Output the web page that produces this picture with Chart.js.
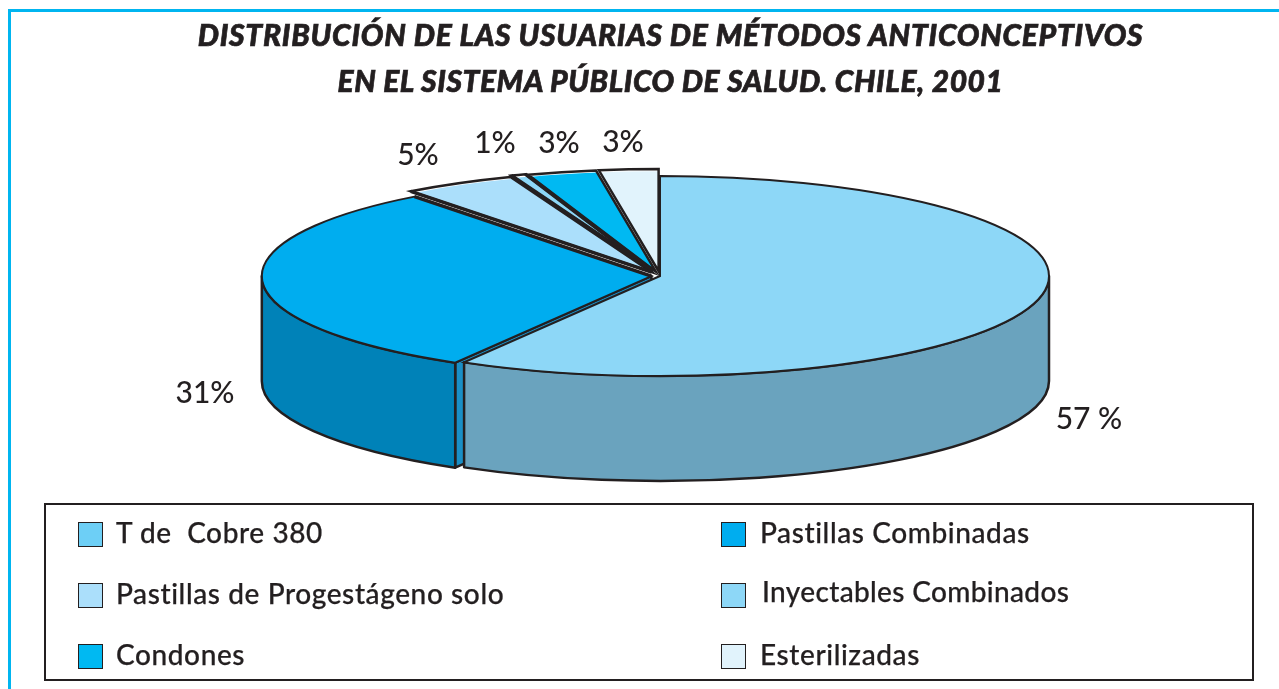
<!DOCTYPE html>
<html lang="es">
<head>
<meta charset="utf-8">
<title>Métodos anticonceptivos</title>
<script src="https://cdn.jsdelivr.net/npm/chart.js@4"></script>
<style>
  html, body { margin: 0; background: #fff; }
  #wrap { position: relative; width: 1279px; height: 689px; overflow: hidden; }
  #myChart { position: absolute; left: 0; top: 0; }
  #frame { position: absolute; left: 8px; top: 9px; width: 1300px; height: 700px; border: 3px solid #00B5F0; }
  .titulo { position: absolute; left: 670.5px; transform: translate(-50%, -50%); white-space: nowrap;
    font: italic 900 30px Lato, sans-serif; color: #231F20; letter-spacing: 0.55px; -webkit-text-stroke: 0.7px #231F20; }
  .pct { position: absolute; transform: translate(-50%, -50%); white-space: nowrap;
    font: 500 30px Lato, sans-serif; color: #231F20; }
  #box { position: absolute; left: 44px; top: 503px; width: 1206px; height: 174px; border: 2px solid #231F20; }
  .sw { position: absolute; width: 23px; height: 23px; border: 1px solid #231F20; }
  .ley { position: absolute; transform: translateY(-50%); white-space: pre;
    font: 500 28px Lato, sans-serif; color: #231F20; letter-spacing: 0.6px; -webkit-text-stroke: 0.25px #231F20; }
</style>
</head>
<body>
<div id="wrap">
  <div id="frame"></div>
  <canvas id="myChart" width="1279" height="689"></canvas>
  <div id="box"></div>
</div>
<script>
// 1 DATA
const titulo = ['DISTRIBUCIÓN DE LAS USUARIAS DE MÉTODOS ANTICONCEPTIVOS', 'EN EL SISTEMA PÚBLICO DE SALUD. CHILE, 2001'];
const categorias = ['T de  Cobre 380', 'Pastillas Combinadas', 'Pastillas de Progestágeno solo', 'Inyectables Combinados', 'Condones', 'Esterilizadas'];
// printed percentages
const etiquetas = ['57 %', '31%', '5%', '1%', '3%', '3%'];
// share of each slice
const valores = [58.4, 31.2, 4.6, 0.6, 2.8, 2.4];

// 2 STYLES
const colores = ['#8DD7F7', '#00ADEF', '#ABDFFB', '#8DD7F7', '#00B9F2', '#E1F3FC'];
const coloresLeyenda = ['#6DCFF6', '#00ADEF', '#ABDFFB', '#8DD7F7', '#00B9F2', '#E1F3FC'];
const paredes = ['#6AA3BE', '#0082B8', null, null, null, null];
const separaciones = [0, 32, 40, 40, 40, 40];
const K = 0.257;      // squash of the circle into an ellipse
const GROSOR = 105;   // height of the wall
const LINEA = '#231F20';

// 3 HELPERS
// same geometry that the arc element uses when it draws itself
function geom(arc) {
    const { x, y, startAngle, endAngle, outerRadius, circumference } = arc;
    const off = (arc.options.offset || 0) / 4;
    const mid = (startAngle + endAngle) / 2;
    const fix = 1 - Math.sin(Math.min(Math.PI, circumference));
    const shift = off + off * fix;
    return {
        cx: x + Math.cos(mid) * shift,
        cy: y + (Math.sin(mid) * shift) * K,
        r: outerRadius + off * fix,
        a0: startAngle,
        a1: endAngle
    };
}

function edge(ctx, g, angle, width) {
    ctx.lineWidth = width;
    ctx.beginPath();
    ctx.moveTo(g.cx, g.cy);
    ctx.lineTo(g.cx + Math.cos(angle) * g.r, g.cy + Math.sin(angle) * g.r * K);
    ctx.stroke();
}

function drawWall(ctx, g, color) {
    const a = Math.max(g.a0, 0), b = Math.min(g.a1, Math.PI);
    if (b <= a) return;
    // radial face seen through the gap
    if (g.a0 > 0) {
        const px = g.cx + Math.cos(g.a0) * g.r, py = g.cy + Math.sin(g.a0) * g.r * K;
        ctx.beginPath();
        ctx.moveTo(g.cx, g.cy);
        ctx.lineTo(px, py);
        ctx.lineTo(px, py + GROSOR);
        ctx.lineTo(g.cx, g.cy + GROSOR);
        ctx.closePath();
        ctx.fillStyle = '#1A8FC6';
        ctx.fill();
        ctx.stroke();
    }
    ctx.beginPath();
    ctx.ellipse(g.cx, g.cy, g.r, g.r * K, 0, a, b);
    ctx.ellipse(g.cx, g.cy + GROSOR, g.r, g.r * K, 0, b, a, true);
    ctx.closePath();
    ctx.fillStyle = color;
    ctx.fill();
    ctx.stroke();
}

// 4 PLUGIN: turns the flat pie into the 3D one
const pie3d = {
    id: 'pie3d',
    beforeDatasetsDraw(chart) {
        const { ctx } = chart;
        const arcs = chart.getDatasetMeta(0).data;
        ctx.save();
        ctx.strokeStyle = LINEA;
        ctx.lineWidth = 2.5;
        ctx.lineJoin = 'round';
        // back to front: left wall first
        [1, 0].forEach(i => drawWall(ctx, geom(arcs[i]), paredes[i]));
        ctx.restore();
        const a = arcs[0];
        ctx.save();
        ctx.translate(a.x, a.y);
        ctx.scale(1, K);
        ctx.translate(-a.x, -a.y);
    },
    afterDatasetsDraw(chart) {
        const { ctx } = chart;
        ctx.restore();
        // outlines in screen space so the line keeps its width
        const arcs = chart.getDatasetMeta(0).data;
        const g = arcs.map(geom);
        ctx.save();
        ctx.strokeStyle = LINEA;
        ctx.lineJoin = 'miter';
        g.forEach((s, i) => {
            ctx.lineWidth = i < 2 ? 2 : 2.5;
            ctx.beginPath();
            ctx.moveTo(s.cx, s.cy);
            ctx.ellipse(s.cx, s.cy, s.r, s.r * K, 0, s.a0, s.a1);
            ctx.closePath();
            ctx.stroke();
        });
        // heavy separators around the thin back slices
        edge(ctx, g[1], g[1].a1, 3.5);
        edge(ctx, g[2], g[2].a0, 3.5);
        edge(ctx, g[3], g[3].a0, 3.5);
        edge(ctx, g[3], g[3].a1, 3.5);
        ctx.restore();
    }
};

// 5 MY CHART
const myChart = new Chart(document.querySelector('#myChart').getContext('2d'), {
    type: 'pie',
    data: {
        labels: categorias,
        datasets: [{
            data: valores,
            backgroundColor: colores,
            borderWidth: 0,
            offset: separaciones,
            radius: 389,
            clip: false
        }]
    },
    options: {
        responsive: false,
        animation: false,
        layout: { padding: { left: 41, bottom: 137 } },
        plugins: { legend: { display: false }, tooltip: { enabled: false } }
    },
    plugins: [pie3d]
});

// 6 TEXT
const wrap = document.querySelector('#wrap');
function addText(cls, text, css) {
    const d = document.createElement('div');
    d.className = cls;
    d.textContent = text;
    Object.assign(d.style, css);
    wrap.appendChild(d);
}
titulo.forEach((t, i) => addText('titulo', t, { top: [34, 80][i] + 'px', letterSpacing: ['0.73px', '0.55px'][i] }));

const posPct = [[1089, 417], [205, 391], [418, 153], [495, 141], [559, 141], [623, 140]];
etiquetas.forEach((t, i) => addText('pct', t, { left: posPct[i][0] + 'px', top: posPct[i][1] + 'px' }));

const filas = [532, 593, 654];
categorias.forEach((c, i) => {
    const col = i % 2, y = filas[Math.floor(i / 2)];
    const sw = document.createElement('div');
    sw.className = 'sw';
    sw.style.left = (col ? 721 : 78) + 'px';
    sw.style.top = (y - 10) + 'px';
    sw.style.background = coloresLeyenda[i];
    wrap.appendChild(sw);
    // "Inyectables" sits a little higher and to the right in the original
    addText('ley', c, { left: (i === 3 ? 762 : col ? 760 : 116) + 'px', top: (i === 3 ? y - 2 : y) + 'px', letterSpacing: i === 3 ? '0.35px' : '0.6px' });
});
</script>
</body>
</html>
